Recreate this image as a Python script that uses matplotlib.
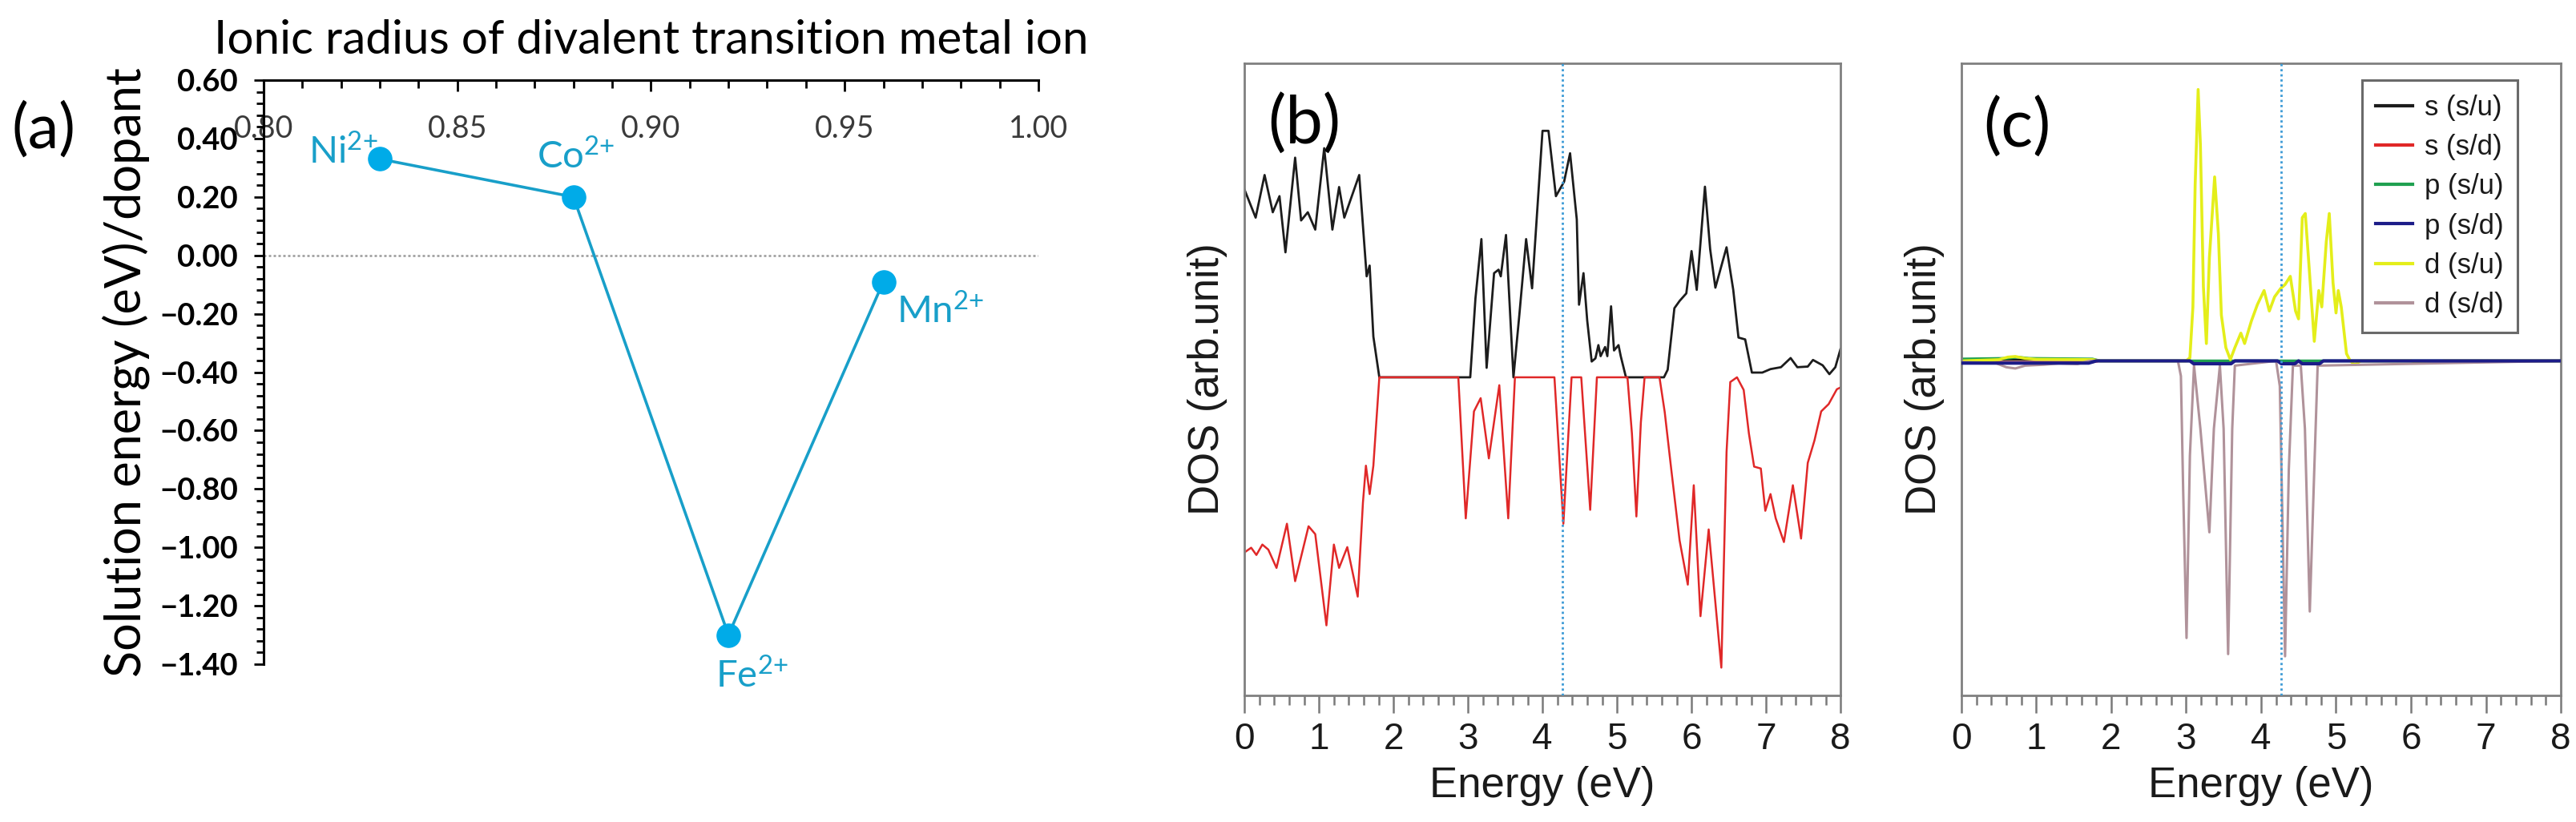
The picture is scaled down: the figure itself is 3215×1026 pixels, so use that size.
import matplotlib
matplotlib.use('Agg')
import matplotlib.pyplot as plt
from matplotlib import font_manager
from matplotlib.ticker import MultipleLocator, FuncFormatter

plt.rcParams['font.family'] = 'Liberation Sans'
plt.rcParams['mathtext.fontset'] = 'custom'
plt.rcParams['mathtext.rm'] = 'Lato'
plt.rcParams['mathtext.it'] = 'Lato:italic'
plt.rcParams['mathtext.bf'] = 'Lato:bold'

# bold face for the (a) tick labels: Lato if it ships a bold file
bold_path = font_manager.findfont(font_manager.FontProperties(family='Lato', weight='bold'))
bold_family = 'Lato' if 'bold' in bold_path.lower() else 'Open Sans'

# (a) solution energy vs ionic radius
ions = ['Ni', 'Co', 'Fe', 'Mn']
radius = [0.83, 0.88, 0.92, 0.96]
sol_energy = [0.33, 0.20, -1.30, -0.09]

# (b) s-DOS, spin up / spin down
e_b_up = [0.00, 0.15, 0.27, 0.38, 0.47, 0.55, 0.68, 0.76, 0.85, 0.95,
          1.07, 1.18, 1.27, 1.34, 1.54, 1.64, 1.68, 1.73, 1.81, 3.03,
          3.10, 3.18, 3.25, 3.35, 3.41, 3.44, 3.51, 3.61, 3.69, 3.78,
          3.86, 3.91, 4.00, 4.08, 4.18, 4.29, 4.37, 4.46, 4.49, 4.55,
          4.60, 4.66, 4.71, 4.75, 4.78, 4.84, 4.87, 4.92, 4.96, 5.02,
          5.05, 5.12, 5.63, 5.68, 5.77, 5.84, 5.93, 6.00, 6.07, 6.18,
          6.25, 6.32, 6.47, 6.56, 6.63, 6.72, 6.81, 6.95, 7.06, 7.20,
          7.33, 7.42, 7.56, 7.63, 7.76, 7.85, 7.93, 8.00]
dos_b_up = [0.595, 0.506, 0.641, 0.523, 0.574, 0.396, 0.696, 0.497, 0.523, 0.468,
            0.726, 0.468, 0.603, 0.506, 0.641, 0.320, 0.354, 0.129, 0.0, 0.0,
            0.25, 0.438, 0.03, 0.33, 0.341, 0.32, 0.451, 0.0, 0.2, 0.438,
            0.282, 0.46, 0.781, 0.781, 0.574, 0.62, 0.71, 0.50, 0.23, 0.33,
            0.18, 0.05, 0.06, 0.102, 0.067, 0.096, 0.067, 0.225, 0.085, 0.102,
            0.067, 0.0, 0.0, 0.024, 0.219, 0.242, 0.266, 0.40, 0.277, 0.604,
            0.406, 0.284, 0.412, 0.277, 0.126, 0.12, 0.015, 0.015, 0.026, 0.032,
            0.061, 0.032, 0.034, 0.055, 0.038, 0.01, 0.032, 0.09]

e_b_dn = [0.00, 0.09, 0.16, 0.24, 0.32, 0.43, 0.57, 0.68, 0.86, 0.95,
          1.10, 1.20, 1.27, 1.38, 1.52, 1.59, 1.63, 1.68, 1.73, 1.81,
          2.87, 2.97, 3.08, 3.17, 3.28, 3.42, 3.54, 3.63, 4.16, 4.28,
          4.39, 4.52, 4.64, 4.73, 5.14, 5.20, 5.26, 5.32, 5.37, 5.57,
          5.64, 5.73, 5.84, 5.95, 6.03, 6.12, 6.23, 6.40, 6.47, 6.52,
          6.61, 6.70, 6.77, 6.84, 6.93, 6.99, 7.06, 7.13, 7.24, 7.36,
          7.47, 7.56, 7.65, 7.74, 7.84, 7.95, 8.00]
dos_b_dn = [-0.555, -0.54, -0.563, -0.53, -0.546, -0.604, -0.464, -0.646, -0.472, -0.497,
            -0.786, -0.53, -0.604, -0.538, -0.695, -0.397, -0.28, -0.37, -0.28, 0.0,
            0.0, -0.447, -0.108, -0.066, -0.257, -0.025, -0.447, 0.0, 0.0, -0.464,
            0.0, 0.0, -0.42, 0.0, 0.0, -0.178, -0.441, -0.143, 0.0, 0.0,
            -0.11, -0.296, -0.517, -0.657, -0.342, -0.757, -0.482, -0.92, -0.237, -0.015,
            0.0, -0.04, -0.178, -0.283, -0.289, -0.423, -0.37, -0.447, -0.522, -0.342,
            -0.511, -0.271, -0.2, -0.108, -0.085, -0.038, -0.032]

# (c) dopant projected DOS
e_c_s = [0.0, 1.75, 1.85, 8.0]
dos_c_s_up = [0.004, 0.004, 0.0, 0.0]
dos_c_s_dn = [-0.004, -0.004, 0.0, 0.0]

e_c_p_up = [0.0, 0.6, 0.75, 0.9, 1.75, 1.85, 8.0]
dos_c_p_up = [0.006, 0.008, 0.012, 0.008, 0.006, 0.0, 0.0]

e_c_p_dn = [0.0, 1.70, 1.80, 3.05, 3.10, 3.60, 3.65, 4.22, 4.27, 4.45,
            4.50, 4.55, 4.78, 4.83, 8.0]
dos_c_p_dn = [-0.007, -0.007, 0.0, 0.0, -0.009, -0.009, 0.0, 0.0, -0.009, -0.009,
              0.0, -0.009, -0.009, 0.0, 0.0]

e_c_d_up = [0.00, 0.50, 0.62, 0.72, 0.85, 1.00, 1.75, 1.85, 3.00, 3.05,
            3.09, 3.12, 3.16, 3.19, 3.23, 3.27, 3.31, 3.38, 3.43, 3.47,
            3.53, 3.59, 3.65, 3.73, 3.78, 3.87, 3.95, 4.04, 4.11, 4.18,
            4.26, 4.32, 4.39, 4.46, 4.50, 4.55, 4.59, 4.64, 4.71, 4.77,
            4.81, 4.87, 4.91, 4.96, 5.00, 5.03, 5.07, 5.14, 5.19, 5.25,
            5.33, 6.00, 6.10, 6.30, 6.45, 8.00]
dos_c_d_up = [0.0, 0.004, 0.012, 0.014, 0.008, 0.005, 0.004, 0.0, 0.0, 0.01,
              0.171, 0.557, 0.86, 0.686, 0.236, 0.055, 0.326, 0.583, 0.403, 0.145,
              0.042, 0.004, 0.042, 0.088, 0.055, 0.126, 0.178, 0.223, 0.158, 0.203,
              0.229, 0.242, 0.268, 0.158, 0.133, 0.454, 0.467, 0.30, 0.062, 0.223,
              0.171, 0.377, 0.467, 0.248, 0.152, 0.223, 0.171, 0.023, 0.0, -0.012,
              0.0, 0.0, -0.006, -0.004, 0.0, 0.0]

e_c_d_dn = [0.00, 0.45, 0.60, 0.72, 0.85, 1.10, 1.30, 1.55, 1.70, 2.89,
            2.93, 2.96, 3.005, 3.05, 3.105, 3.19, 3.31, 3.37, 3.45, 3.50,
            3.56, 3.615, 3.65, 4.20, 4.25, 4.32, 4.37, 4.425, 4.53, 4.585,
            4.65, 4.71, 4.755, 8.00]
dos_c_d_dn = [-0.004, -0.006, -0.02, -0.024, -0.015, -0.012, -0.008, -0.01, 0.0, 0.0,
              -0.048, -0.408, -0.878, -0.30, -0.015, -0.215, -0.543, -0.215, -0.015, -0.215,
              -0.929, -0.215, -0.015, 0.0, -0.08, -0.936, -0.344, -0.015, -0.015, -0.215,
              -0.794, -0.344, -0.015, 0.0]

fermi = 4.27
legend_labels = ['s (s/u)', 's (s/d)', 'p (s/u)', 'p (s/d)', 'd (s/u)', 'd (s/d)']

fig = plt.figure(figsize=(32.15, 10.26), dpi=100)

# ---------- (a) ----------
cyan = '#189fc9'
ax = fig.add_axes([0.1023, 0.192, 0.3008, 0.7105])
ax.axhline(0, color='#9a9a9a', ls=(0, (1.2, 1.2)), lw=1.8, zorder=1)
ax.plot(radius, sol_energy, color=cyan, lw=2.6, marker='o', ms=21,
        mfc='#00abe8', mec='#00abe8', zorder=3)
label_pos = [(-2, -4, 'right'), (2, 26, 'center'), (21, -47, 'center'), (12, -37, 'left')]
for name, x, y, (dx, dy, ha) in zip(ions, radius, sol_energy, label_pos):
    ax.annotate(name + r'$^{2{+}}$', (x, y), xytext=(dx, dy), textcoords='offset points',
                ha=ha, va='baseline', fontsize=34, color=cyan, family='Lato')

ax.set_xlim(0.80, 1.00)
ax.set_ylim(-1.40, 0.60)
for s in ['right', 'bottom']:
    ax.spines[s].set_visible(False)
for s in ['left', 'top']:
    ax.spines[s].set_linewidth(2.2)
ax.xaxis.set_major_locator(MultipleLocator(0.05))
ax.xaxis.set_minor_locator(MultipleLocator(0.01))
ax.yaxis.set_major_locator(MultipleLocator(0.2))
ax.yaxis.set_minor_locator(MultipleLocator(0.04))
ax.xaxis.set_major_formatter(FuncFormatter(lambda v, p: f'{v:.2f}'))
ax.yaxis.set_major_formatter(FuncFormatter(lambda v, p: f'{v:.2f}'.replace('-', '\u2212')))
ax.tick_params(axis='x', which='both', top=True, bottom=False, labeltop=True,
               labelbottom=False, direction='in', pad=-57, labelsize=27,
               labelcolor='#3a3a3a', width=2, labelfontfamily='Lato')
ax.tick_params(axis='x', which='major', length=10)
ax.tick_params(axis='x', which='minor', length=7)
ax.tick_params(axis='y', which='both', direction='out', width=2, labelsize=27.5,
               pad=14, labelfontfamily=bold_family)
ax.tick_params(axis='y', which='major', length=9)
ax.tick_params(axis='y', which='minor', length=6.5)
ax.set_title('Ionic radius of divalent transition metal ion', fontsize=42,
             family='Lato', pad=24, y=1.0)
ax.set_ylabel('Solution energy (eV)/dopant', fontsize=44, family='Lato', labelpad=9)
fig.text(55 / 3215, 1 - 163 / 1026, '(a)', fontsize=56, family='Lato', ha='center', va='center')


# ---------- (b) and (c) common styling ----------
def dos_axes(rect, ylim):
    a = fig.add_axes(rect)
    a.set_xlim(0, 8)
    a.set_ylim(*ylim)
    for s in a.spines.values():
        s.set_color('#808080')
        s.set_linewidth(2.0)
    a.xaxis.set_major_locator(MultipleLocator(1))
    a.xaxis.set_minor_locator(MultipleLocator(0.2))
    a.tick_params(axis='y', which='both', left=False, labelleft=False)
    a.tick_params(axis='x', which='both', direction='out', color='#7a7a7a', width=1.8,
                  labelsize=33, pad=8, labelcolor='#1a1a1a')
    a.tick_params(axis='x', which='major', length=16)
    a.tick_params(axis='x', which='minor', length=8.5)
    a.set_xlabel('Energy (eV)', fontsize=38, labelpad=8, color='#1a1a1a')
    a.set_ylabel('DOS (arb.unit)', fontsize=38, labelpad=15, color='#1a1a1a')
    a.axvline(fermi, color='#3d9bd6', ls=(0, (1, 1.3)), lw=2.0, zorder=5)
    return a


axb = dos_axes([0.4831, 0.154, 0.2314, 0.769], (-1.008, 0.995))
axb.plot(e_b_up, dos_b_up, color='#1c1c1c', lw=2.0)
axb.plot(e_b_dn, dos_b_dn, color='#e02828', lw=1.8)
fig.text(1628 / 3215, 1 - 156 / 1026, '(b)', fontsize=60, family='Lato', ha='center', va='center')

axc = dos_axes([0.7614, 0.154, 0.2327, 0.769], (-1.06, 0.943))
axc.plot(e_c_s, dos_c_s_up, color='#1c1c1c', lw=2.0, label=legend_labels[0])
axc.plot(e_c_s, dos_c_s_dn, color='#e02828', lw=2.0, label=legend_labels[1])
axc.plot(e_c_p_up, dos_c_p_up, color='#1fa050', lw=2.5, label=legend_labels[2])
axc.plot(e_c_p_dn, dos_c_p_dn, color='#1c1c88', lw=3.0, label=legend_labels[3], zorder=4)
axc.plot(e_c_d_up, dos_c_d_up, color='#e4ee1a', lw=2.6, label=legend_labels[4])
axc.plot(e_c_d_dn, dos_c_d_dn, color='#b0929a', lw=2.2, label=legend_labels[5], zorder=3)
leg = axc.legend(loc='upper right', bbox_to_anchor=(0.928, 0.973), borderaxespad=0,
                 fontsize=25, frameon=True, fancybox=False, framealpha=1,
                 edgecolor='#6a6a6a', handlelength=1.3, handletextpad=0.45,
                 labelspacing=0.47, borderpad=0.5)
leg.get_frame().set_linewidth(2.2)
for t in leg.get_texts():
    t.set_color('#1a1a1a')
for h in leg.legend_handles:
    h.set_linewidth(3.0)
fig.text(2517 / 3215, 1 - 160 / 1026, '(c)', fontsize=60, family='Lato', ha='center', va='center')

# bold y tick labels on (a)
for lab in ax.get_yticklabels():
    lab.set_fontweight('bold')

fig.savefig('out.png', dpi=100)
